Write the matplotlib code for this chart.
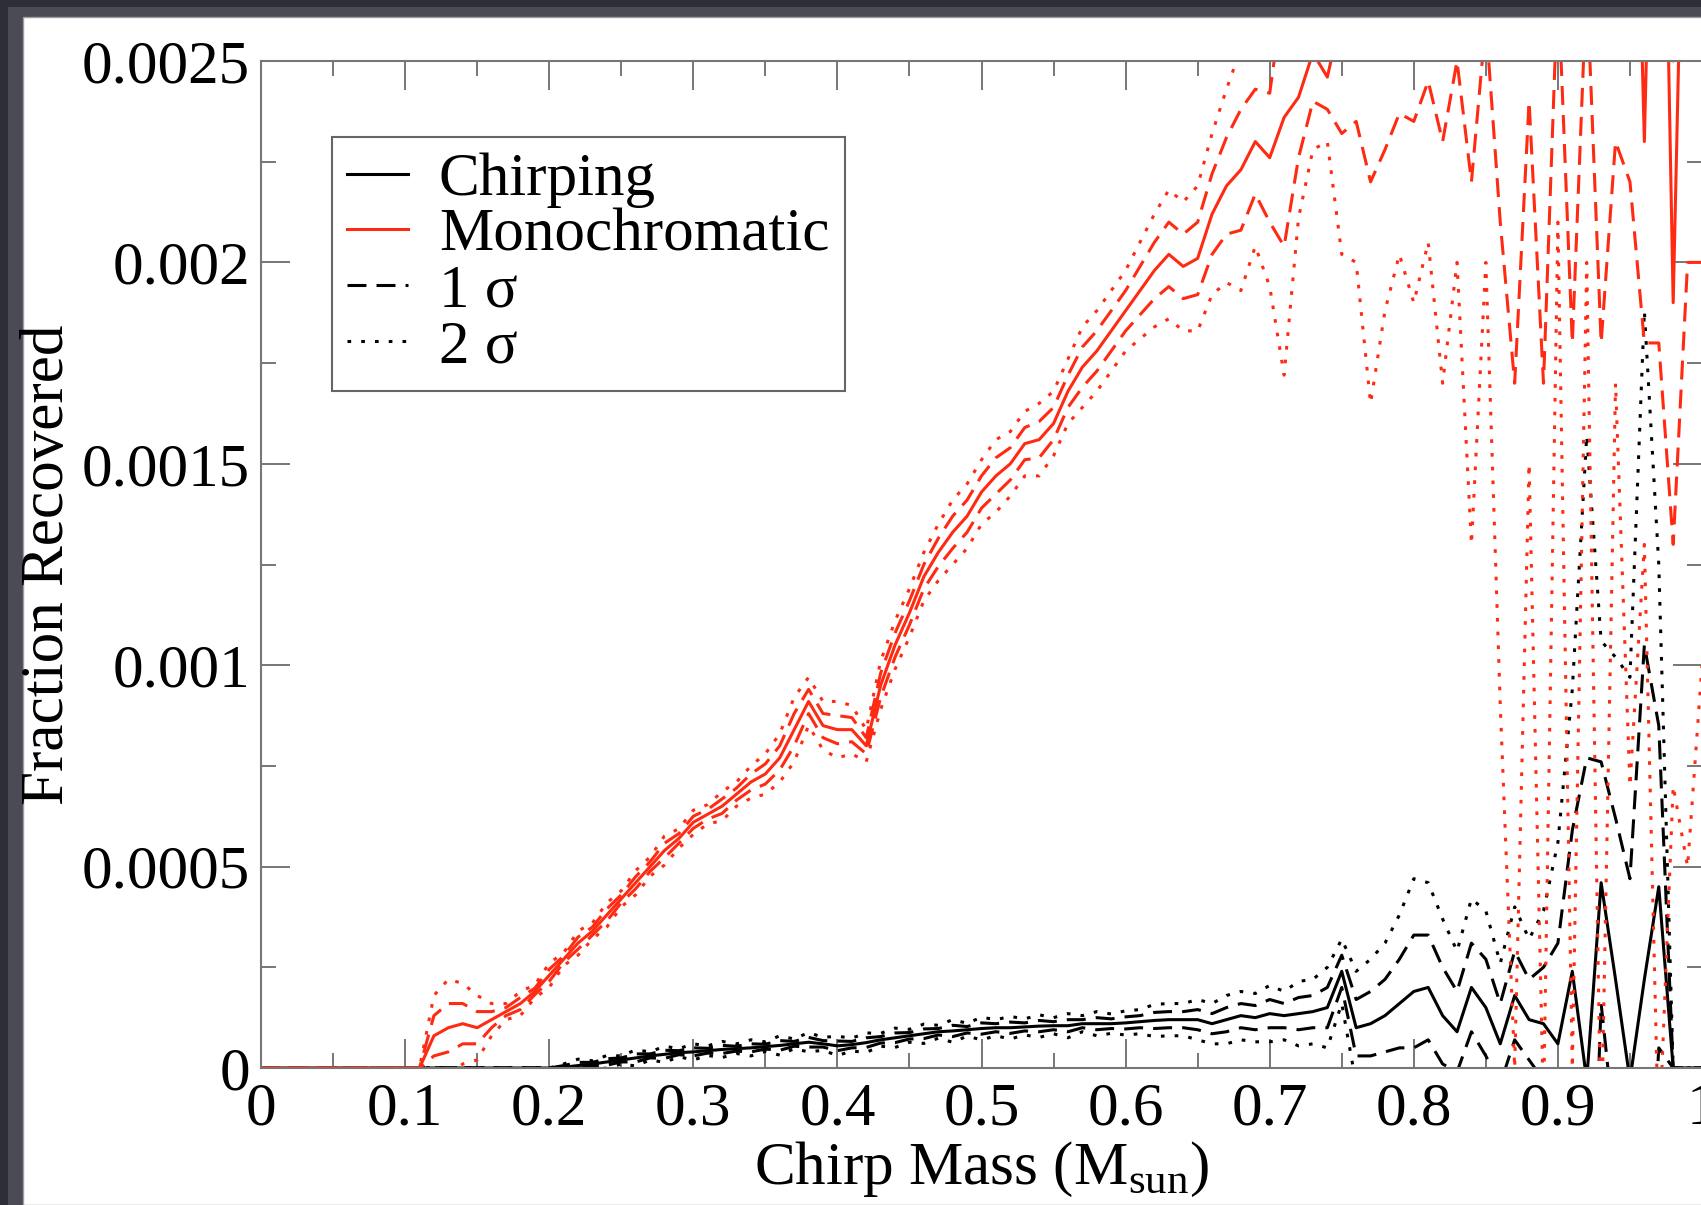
import numpy as np
import matplotlib
matplotlib.use('Agg')
from matplotlib import pyplot as plt
from matplotlib.patches import Rectangle
from matplotlib.lines import Line2D

plt.rcParams['font.family'] = ['Liberation Serif', 'DejaVu Serif']
plt.rcParams['mathtext.fontset'] = 'custom'
plt.rcParams['mathtext.rm'] = 'Liberation Serif'

# chirp mass grid (M_sun)
mass = np.linspace(0, 1, 101)

# monochromatic: mean fraction recovered and its sigma
mono_mean = [0, 0, 0, 0, 0, 0, 0, 0, 0, 0, 0, 0,
             0.00008, 0.00010, 0.00011, 0.00010, 0.00012, 0.00014, 0.00016, 0.00019,
             0.00023, 0.00027, 0.00031, 0.00034, 0.00038, 0.00042, 0.00046, 0.00050,
             0.00054, 0.00057, 0.00061, 0.00063, 0.00065, 0.00068, 0.00071, 0.00073,
             0.00077, 0.00084, 0.00091, 0.00085, 0.00084, 0.00084, 0.00080, 0.00095,
             0.00105, 0.00113, 0.00122, 0.00128, 0.00133, 0.00137, 0.00143, 0.00147,
             0.00150, 0.00155, 0.00156, 0.00160, 0.00168, 0.00174, 0.00178, 0.00183,
             0.00188, 0.00193, 0.00198, 0.00202, 0.00199, 0.00201, 0.00212, 0.00219,
             0.00223, 0.00230, 0.00226, 0.00236, 0.00241, 0.00252, 0.00246,
             0.00262, 0.00270, 0.00275, 0.00268, 0.00272, 0.00280, 0.00285, 0.00290,
             0.00300, 0.00310, 0.00320, 0.00330, 0.00340, 0.00330, 0.00350, 0.00330,
             0.00360, 0.00340, 0.00380, 0.00290, 0.00370, 0.00230, 0.00380, 0.00190,
             0.00350, 0.00300]
mono_sig = [0, 0, 0, 0, 0, 0, 0, 0, 0, 0, 0, 0,
            0.00005, 0.00006, 0.00005, 0.00004, 0.00002, 0.00001,
            0.000015, 0.000008, 0.000015, 0.000008, 0.000015, 0.000010, 0.000015, 0.000010,
            0.000015, 0.000012, 0.000018, 0.000012, 0.000015, 0.000012, 0.000018, 0.000015,
            0.000020, 0.000025,
            0.00003, 0.00004, 0.00003, 0.00003, 0.000035, 0.00003, 0.00002, 0.00003,
            0.00003, 0.00003, 0.00003, 0.000035, 0.00004, 0.00004, 0.00004, 0.000045,
            0.00004, 0.00004, 0.000045, 0.00004, 0.00004, 0.00005, 0.00005, 0.00005,
            0.00005, 0.00006, 0.00007, 0.00008, 0.00008, 0.00009, 0.00010, 0.00012,
            0.00015, 0.00013, 0.00016, 0.00032, 0.00015, 0.00012, 0.00008,
            0.00030, 0.00035, 0.00055, 0.00040, 0.00035, 0.00045, 0.00040, 0.00060,
            0.00050, 0.00090, 0.00060, 0.00120, 0.00170, 0.00090, 0.00180, 0.00060,
            0.00180, 0.00070, 0.00200, 0.00060, 0.00150, 0.00050, 0.00200, 0.00060,
            0.00150, 0.00100]

# chirping: mean fraction recovered and its sigma
chirp_mean = [0, 0, 0, 0, 0, 0, 0, 0, 0, 0, 0, 0, 0, 0, 0, 0, 0, 0, 0, 0, 0,
              0.000002, 0.000006, 0.000010, 0.000015, 0.000020, 0.000025, 0.000030,
              0.000034, 0.000038, 0.000040, 0.000043, 0.000046, 0.000048, 0.000050,
              0.000053, 0.000056, 0.000060, 0.000064, 0.000060, 0.000055, 0.000058,
              0.000063, 0.000070, 0.000075, 0.000080, 0.000085, 0.000090, 0.000092,
              0.000095, 0.000098, 0.000100, 0.000100, 0.000102, 0.000104, 0.000105,
              0.000105, 0.000110, 0.000110, 0.000110, 0.000112, 0.000115, 0.000118,
              0.000120, 0.000120, 0.000120, 0.000110, 0.000120, 0.000130, 0.000125,
              0.000135, 0.000130, 0.000135, 0.000140, 0.000150, 0.000240, 0.000100,
              0.000110, 0.000130, 0.000160, 0.000190, 0.000200, 0.000130, 0.000090,
              0.000200, 0.000150, 0.000060, 0.000180, 0.000120, 0.000110, 0.000060,
              0.000240, -0.000030, 0.000460, 0.000220, -0.000030, 0.000220, 0.000450,
              0.0, 0.0, 0.0]
chirp_sig = [0, 0, 0, 0, 0, 0, 0, 0, 0, 0, 0, 0, 0, 0, 0, 0, 0, 0, 0, 0, 0,
             0.000004, 0.000008, 0.000004, 0.000008, 0.000005, 0.000010, 0.000005,
             0.000010, 0.000005, 0.000010, 0.000006, 0.000010, 0.000006, 0.000010,
             0.000006, 0.000012, 0.000006, 0.000012, 0.000008, 0.000012, 0.000008,
             0.000012, 0.000008, 0.000012, 0.000008, 0.000012, 0.000008, 0.000014,
             0.000008, 0.000014, 0.000010, 0.000014, 0.000010, 0.000014, 0.000010,
             0.000015, 0.000010, 0.000015, 0.000012, 0.000015,
             0.000015, 0.00002, 0.00002, 0.00002, 0.000025, 0.000025, 0.00003,
             0.00003, 0.00003, 0.000035, 0.00003, 0.00004, 0.00004, 0.00005,
             0.00004, 0.00007, 0.00008, 0.00009, 0.00011, 0.00014, 0.00013, 0.00012,
             0.00010, 0.00011, 0.00012, 0.00010, 0.00011, 0.00010, 0.00014, 0.00025,
             0.00035, 0.00080, 0.00030, 0.00040, 0.00050, 0.00083, 0.00040,
             0.0, 0.0, 0.0]

xtick_labels = ['0', '0.1', '0.2', '0.3', '0.4', '0.5', '0.6', '0.7', '0.8', '0.9', '1']
ytick_labels = ['0', '0.0005', '0.001', '0.0015', '0.002', '0.0025']
legend_labels = ['Chirping', 'Monochromatic', '1 σ', '2 σ']

RED = '#ff2a12'
LW = 2.2
DASH = (6.2, 3.3)
DOT = (1.2, 3.3)
FS = 44

W, H = 1701, 1205
fig = plt.figure(figsize=(W / 100, H / 100), dpi=100)
fig.patch.set_facecolor('#2d2e38')
fig.add_artist(Rectangle((8 / W, 0), 1, 1 - 7 / H, transform=fig.transFigure,
                         facecolor='#4a4b55', edgecolor='none', zorder=-10))
fig.add_artist(Rectangle((23 / W, 0), 1, 1 - 17 / H, transform=fig.transFigure,
                         facecolor='white', edgecolor='#9c9ca2', linewidth=1, zorder=-9))

ax = fig.add_axes([261 / W, 1 - 1068 / H, (1702 - 261) / W, (1068 - 61) / H])
ax.set_facecolor('white')

for mean, sig, col in [(chirp_mean, chirp_sig, 'black'), (mono_mean, mono_sig, RED)]:
    m = np.array(mean)
    s = np.array(sig)
    for k in (1, 2):
        ls = (0, DASH) if k == 1 else (0, DOT)
        ax.plot(mass, m + k * s, color=col, lw=LW, linestyle=ls)
        ax.plot(mass, m - k * s, color=col, lw=LW, linestyle=ls)
    ax.plot(mass, m, color=col, lw=LW)

ax.set_xlim(0, 1)
ax.set_ylim(0, 0.0025)
ax.set_xticks(np.linspace(0, 1, 11))
ax.set_xticklabels(xtick_labels)
ax.set_xticks(np.linspace(0.05, 0.95, 10), minor=True)
ax.set_yticks(np.linspace(0, 0.0025, 6))
ax.set_yticklabels(ytick_labels)
ax.set_yticks(np.linspace(0.00025, 0.00225, 5), minor=True)

ax.tick_params(which='both', direction='in', top=True, right=True,
               color='#777777', width=1.4, labelsize=FS)
ax.tick_params(which='major', length=21)
ax.tick_params(which='minor', length=11)
ax.tick_params(axis='x', pad=10)
ax.tick_params(axis='y', pad=8)
for sp in ax.spines.values():
    sp.set_color('#777777')
    sp.set_linewidth(1.5)

ax.set_xlabel(r'Chirp Mass (M$_{\mathrm{sun}}$)', fontsize=FS, labelpad=2)
ax.set_ylabel('Fraction Recovered', fontsize=FS, labelpad=4)

handles = [Line2D([], [], color='black', lw=LW),
           Line2D([], [], color=RED, lw=LW),
           Line2D([], [], color='black', lw=LW, linestyle=(0, DASH)),
           Line2D([], [], color='black', lw=LW, linestyle=(0, DOT))]
leg = ax.legend(handles, legend_labels, loc='upper left', bbox_to_anchor=(0.0493, 0.9245),
                fontsize=FS, frameon=True, fancybox=False, edgecolor='#666666',
                handlelength=1.0, handletextpad=0.5, borderpad=0.25, labelspacing=0.0,
                borderaxespad=0, framealpha=1)
leg.get_frame().set_linewidth(1.5)

fig.savefig('out.png', dpi=100, facecolor=fig.get_facecolor())
